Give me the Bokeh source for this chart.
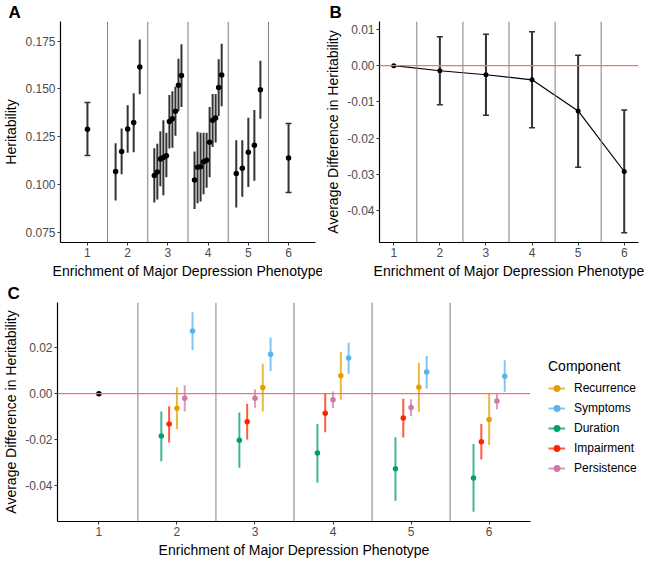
import numpy as np
from bokeh.plotting import figure
from bokeh.models import (Span, Whisker, TeeHead, Title, Legend, LegendItem,
                          FixedTicker, PrintfTickFormatter, ColumnDataSource, Range1d)
from bokeh.layouts import column, row
from bokeh.embed import file_html
from bokeh.resources import INLINE

FONT = "Liberation Sans"

# ---------------- data ----------------
levels = [1, 2, 3, 4, 5, 6]
level_labels = ["1", "2", "3", "4", "5", "6"]
x_title = "Enrichment of Major Depression Phenotype"

# Panel A: heritability by enrichment level
a_group = [1] + [2] * 5 + [3] * 10 + [4] * 10 + [5] * 5 + [6]
a_est = [0.1290,
         0.1068, 0.1173, 0.1291, 0.1324, 0.1615,
         0.1048, 0.1066, 0.1134, 0.1142, 0.1151, 0.1330, 0.1344, 0.1384, 0.1519, 0.1570,
         0.1024, 0.1091, 0.1093, 0.1119, 0.1128, 0.1221, 0.1337, 0.1348, 0.1508, 0.1573,
         0.1058, 0.1086, 0.1169, 0.1206, 0.1496,
         0.1139]
a_lo = [0.1152,
        0.0917, 0.1054, 0.1167, 0.1169, 0.1472,
        0.0907, 0.0922, 0.0992, 0.0944, 0.1038, 0.1189, 0.1193, 0.1256, 0.1384, 0.1406,
        0.0872, 0.0903, 0.0912, 0.0950, 0.0984, 0.1038, 0.1196, 0.1220, 0.1359, 0.1410,
        0.0880, 0.0937, 0.0987, 0.1020, 0.1344,
        0.0959]
a_hi = [0.1429,
        0.1216, 0.1293, 0.1415, 0.1477, 0.1759,
        0.1190, 0.1214, 0.1279, 0.1336, 0.1271, 0.1468, 0.1488, 0.1511, 0.1658, 0.1733,
        0.1173, 0.1276, 0.1271, 0.1271, 0.1271, 0.1406, 0.1474, 0.1474, 0.1655, 0.1736,
        0.1232, 0.1232, 0.1349, 0.1390, 0.1648,
        0.1319]
a_yticks = [0.075, 0.100, 0.125, 0.150, 0.175]

# Panel B: average difference in heritability
b_level = [1, 2, 3, 4, 5, 6]
b_est = [0.0, -0.0014, -0.0025, -0.0039, -0.0125, -0.0292]
b_lo = [0.0, -0.0108, -0.0137, -0.0171, -0.0280, -0.0461]
b_hi = [0.0, 0.0080, 0.0087, 0.0094, 0.0029, -0.0122]
b_yticks = [0.01, 0.00, -0.01, -0.02, -0.03, -0.04]

# Panel C: by component
c_ref_level = [1]
c_ref_est = [0.0]
c_levels = [2, 3, 4, 5, 6]
components = ["Recurrence", "Symptoms", "Duration", "Impairment", "Persistence"]
comp_colors = ["#E69F00", "#56B4E9", "#009E73", "#FF2400", "#CC79A7"]
rec_est = [-0.0064, 0.0027, 0.0078, 0.0028, -0.0113]
rec_lo = [-0.0155, -0.0078, -0.0027, -0.0079, -0.0224]
rec_hi = [0.0028, 0.0130, 0.0181, 0.0135, 0.0000]
sym_est = [0.0273, 0.0172, 0.0155, 0.0094, 0.0076]
sym_lo = [0.0190, 0.0099, 0.0086, 0.0022, 0.0008]
sym_hi = [0.0355, 0.0245, 0.0222, 0.0164, 0.0145]
dur_est = [-0.0185, -0.0203, -0.0259, -0.0327, -0.0367]
dur_lo = [-0.0294, -0.0323, -0.0388, -0.0467, -0.0514]
dur_hi = [-0.0078, -0.0082, -0.0132, -0.0190, -0.0219]
imp_est = [-0.0132, -0.0122, -0.0085, -0.0106, -0.0210]
imp_lo = [-0.0213, -0.0200, -0.0168, -0.0191, -0.0287]
imp_hi = [-0.0055, -0.0044, 0.0000, -0.0022, -0.0132]
per_est = [-0.0020, -0.0020, -0.0027, -0.0060, -0.0032]
per_lo = [-0.0078, -0.0062, -0.0063, -0.0097, -0.0068]
per_hi = [0.0037, 0.0018, 0.0009, -0.0024, 0.0003]
c_yticks = [0.02, 0.00, -0.02, -0.04]


# ---------------- helpers ----------------
def dodge(groups, est, width):
    groups = np.asarray(groups, float)
    est = np.asarray(est, float)
    x = np.zeros(len(groups))
    n_in = np.zeros(len(groups), int)
    for g in np.unique(groups):
        idx = np.where(groups == g)[0]
        order = idx[np.argsort(est[idx], kind="stable")]
        n = len(idx)
        for r, i in enumerate(order):
            x[i] = g - width / 2 + (r + 0.5) * width / n
        n_in[idx] = n
    return x, n_in


def style(p, yticks, yfmt, ylabel):
    p.xgrid.visible = False
    p.ygrid.visible = False
    p.outline_line_color = None
    p.xaxis.axis_label = x_title
    p.yaxis.axis_label = ylabel
    for ax in (p.xaxis[0], p.yaxis[0]):
        ax.axis_line_color = "black"
        ax.axis_line_width = 1.2
        ax.major_tick_line_color = "#333333"
        ax.major_tick_out = 3
        ax.major_tick_in = 0
        ax.minor_tick_line_color = None
        ax.major_label_text_font = FONT
        ax.major_label_text_font_size = "12px"
        ax.major_label_text_color = "#4D4D4D"
        ax.axis_label_text_font = FONT
        ax.axis_label_text_font_size = "14px"
        ax.axis_label_text_font_style = "normal"
        ax.axis_label_text_color = "black"
        ax.major_label_standoff = 2
        ax.axis_label_standoff = 3
    p.xaxis.ticker = FixedTicker(ticks=levels)
    p.xaxis.major_label_overrides = {lv: lab for lv, lab in zip(levels, level_labels)}
    p.yaxis.ticker = FixedTicker(ticks=yticks)
    p.yaxis.formatter = PrintfTickFormatter(format=yfmt)


def separators(p):
    for a, b in zip(levels[:-1], levels[1:]):
        p.add_layout(Span(location=(a + b) / 2, dimension="height",
                          line_color="#7F7F7F", line_width=1))


def panel_letter(p, text, offset):
    p.add_layout(Title(text=text, text_font=FONT, text_font_size="17px",
                       text_font_style="bold", text_color="black", align="left",
                       offset=offset, standoff=0), "above")


ERR = "#333333"
ZERO = "#FF7366"

# ---------------- panel A ----------------
pA = figure(width=322, height=281, x_range=Range1d(0.33, 6.67),
            y_range=Range1d(0.06975, 0.18525), output_backend="svg",
            toolbar_location=None, min_border_left=0, min_border_right=7,
            min_border_top=0, min_border_bottom=0)
style(pA, a_yticks, "%.3f", "Heritability")
separators(pA)
ax_x, ax_n = dodge(a_group, a_est, 0.75)
srcA = ColumnDataSource(dict(x=ax_x, est=a_est, lo=a_lo, hi=a_hi, n=ax_n))
multi = ax_n > 1
pA.segment(x0=ax_x[multi], y0=np.asarray(a_lo)[multi], x1=ax_x[multi],
           y1=np.asarray(a_hi)[multi], line_color=ERR, line_width=2)
single = ~multi
srcA1 = ColumnDataSource(dict(x=ax_x[single], lo=np.asarray(a_lo)[single],
                              hi=np.asarray(a_hi)[single]))
pA.add_layout(Whisker(source=srcA1, base="x", lower="lo", upper="hi", dimension="height",
                      line_color=ERR, line_width=2,
                      upper_head=TeeHead(size=6, line_color=ERR, line_width=1.5),
                      lower_head=TeeHead(size=6, line_color=ERR, line_width=1.5)))
pA.scatter("x", "est", source=srcA, size=5.5, fill_color="black", line_color=None)
panel_letter(pA, "A", -52)

# ---------------- panel B ----------------
pB = figure(width=322, height=281, x_range=Range1d(0.69, 6.31),
            y_range=Range1d(-0.0488, 0.0122), output_backend="svg",
            toolbar_location=None, min_border_left=0, min_border_right=6,
            min_border_top=0, min_border_bottom=0)
style(pB, b_yticks, "%.2f", "Average Difference in Heritability")
separators(pB)
pB.add_layout(Span(location=0, dimension="width", line_color=ZERO, line_width=1.2))
srcB = ColumnDataSource(dict(x=b_level, est=b_est, lo=b_lo, hi=b_hi))
pB.add_layout(Whisker(source=srcB, base="x", lower="lo", upper="hi", dimension="height",
                      line_color=ERR, line_width=2,
                      upper_head=TeeHead(size=6, line_color=ERR, line_width=1.5),
                      lower_head=TeeHead(size=6, line_color=ERR, line_width=1.5)))
pB.line("x", "est", source=srcB, line_color="black", line_width=1.2)
pB.scatter("x", "est", source=srcB, size=5, fill_color="black", line_color=None)
panel_letter(pB, "B", -50)

# ---------------- panel C ----------------
pC = figure(width=534, height=279, x_range=Range1d(0.47, 6.53),
            y_range=Range1d(-0.0557, 0.0397), output_backend="svg",
            toolbar_location=None, min_border_left=0, min_border_right=4,
            min_border_top=0, min_border_bottom=0)
style(pC, c_yticks, "%.2f", "Average Difference in Heritability")
separators(pC)
pC.add_layout(Span(location=0, dimension="width", line_color=ZERO, line_width=1.2))
pC.scatter(c_ref_level, c_ref_est, size=5.5, fill_color="black", line_color=None)

comp_est = [rec_est, sym_est, dur_est, imp_est, per_est]
comp_lo = [rec_lo, sym_lo, dur_lo, imp_lo, per_lo]
comp_hi = [rec_hi, sym_hi, dur_hi, imp_hi, per_hi]
all_g, all_e, all_c = [], [], []
for ci, est in enumerate(comp_est):
    all_g += c_levels
    all_e += est
    all_c += [ci] * len(c_levels)
cx, _ = dodge(all_g, all_e, 0.5)
all_c = np.asarray(all_c)
for ci, comp in enumerate(components):
    m = all_c == ci
    src = ColumnDataSource(dict(x=cx[m], est=comp_est[ci], lo=comp_lo[ci], hi=comp_hi[ci]))
    pC.segment(x0="x", y0="lo", x1="x", y1="hi", source=src,
               line_color=comp_colors[ci], line_width=2, line_alpha=0.75)
    pC.scatter("x", "est", source=src, size=5.5, fill_color=comp_colors[ci], line_color=None)
panel_letter(pC, "C", -50)

# ---------------- legend (separate narrow figure) ----------------
pL = figure(width=110, height=279, x_range=Range1d(0, 1), y_range=Range1d(0, 1),
            output_backend="svg", toolbar_location=None, min_border=0)
pL.axis.visible = False
pL.xgrid.visible = False
pL.ygrid.visible = False
pL.outline_line_color = None
items = []
for ci, comp in enumerate(components):
    # legend-key renderers: one hidden point outside the visible range
    key_src = ColumnDataSource(dict(x=[-5.0], y=[-5.0]))
    seg = pL.segment(x0="x", y0="y", x1="x", y1="y", source=key_src,
                     line_color=comp_colors[ci], line_width=2, line_alpha=0.75)
    pts = pL.scatter("x", "y", source=key_src, size=5.5,
                     fill_color=comp_colors[ci], line_color=None)
    items.append(LegendItem(label=comp, renderers=[seg, pts]))
legend = Legend(items=items, title="Component", location=(14, 43),
                title_text_font=FONT, title_text_font_size="14px",
                title_text_font_style="normal", title_text_color="black",
                label_text_font=FONT, label_text_font_size="12px", label_text_color="black",
                glyph_width=17, glyph_height=20, label_height=20, spacing=0,
                label_standoff=9, padding=4, margin=0, title_standoff=4,
                border_line_color=None, background_fill_alpha=0)
pL.add_layout(legend)

layout = column(row(pA, pB), row(pC, pL))
open("out.html", "w").write(file_html(layout, INLINE))
